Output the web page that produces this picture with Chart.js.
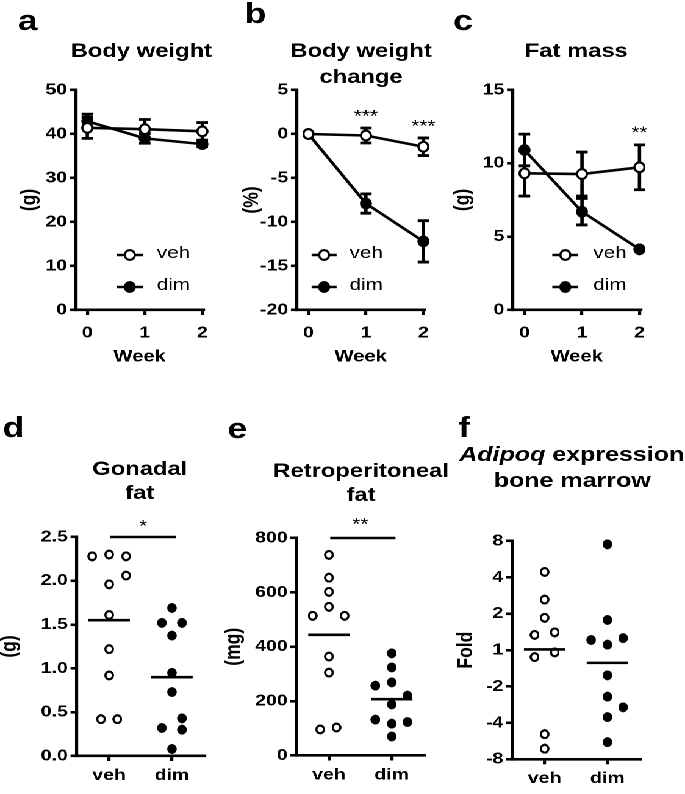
<!DOCTYPE html>
<html><head><meta charset="utf-8">
<script src="https://cdn.jsdelivr.net/npm/chart.js@4/dist/chart.umd.min.js"></script>
<style>
html,body{margin:0;padding:0;background:#fff;}
#wrap{position:absolute;left:0;top:0;width:561.5px;height:794px;transform:scaleX(1.22);transform-origin:0 0;}
#wrap canvas{position:absolute;}
</style></head><body><div id="wrap"></div>
<script>
// ================= DATA =================
const weeks = [0, 1, 2];
const weekLabels = ['0', '1', '2'];

// a: Body weight (g)
const bwVeh = [41.4, 41.1, 40.6];
const bwVehErr = [2.4, 2.2, 2.0];
const bwDim = [42.9, 39.0, 37.7];
const bwDimErr = [1.6, 1.1, 0.6];
const bwTicks = [0, 10, 20, 30, 40, 50];
const bwTickLabels = ['0', '10', '20', '30', '40', '50'];

// b: Body weight change (%)
const chVeh = [0, -0.17, -1.45];
const chVehErr = [0, 0.85, 1.0];
const chDim = [0, -7.9, -12.2];
const chDimErr = [0, 1.1, 2.35];
const chTicks = [-20, -15, -10, -5, 0, 5];
const chTickLabels = ['-20', '-15', '-10', '-5', '0', '5'];
const chStarText = ['***', '***'];
const chStarWeek = [1, 2];
const chStarY = [2.5, 1.4];

// c: Fat mass (g)
const fmVeh = [9.32, 9.27, 9.73];
const fmVehErr = [1.55, 1.5, 1.53];
const fmDim = [10.91, 6.7, 4.14];
const fmDimErr = [1.08, 0.9, 0.1];
const fmTicks = [0, 5, 10, 15];
const fmTickLabels = ['0', '5', '10', '15'];
const fmStarText = ['**'];
const fmStarWeek = [2];
const fmStarY = [12.4];

// d-f: groups
const groups = [0, 1];
const groupLabels = ['veh', 'dim'];

// d: Gonadal fat (g)
const gonVeh = [2.28, 2.30, 2.28, 2.06, 1.96, 1.61, 1.22, 0.92, 0.42, 0.42];
const gonVehJit = [-0.27, 0, 0.27, 0.27, 0, 0, 0, 0, -0.13, 0.13];
const gonDim = [1.69, 1.52, 1.52, 1.375, 0.95, 0.73, 0.43, 0.32, 0.30, 0.08];
const gonDimJit = [0, -0.16, 0.16, 0, 0, 0, 0.16, -0.16, 0.16, 0];
const gonMeans = [1.55, 0.90];
const gonTicks = [0, 0.5, 1, 1.5, 2, 2.5];
const gonTickLabels = ['0.0', '0.5', '1.0', '1.5', '2.0', '2.5'];

// e: Retroperitoneal fat (mg)
const rpVeh = [738, 654, 602, 547, 514, 514, 364, 305, 96, 103];
const rpVehJit = [0, 0, 0, 0, -0.26, 0.25, 0, 0, -0.14, 0.12];
const rpDim = [376, 324, 269, 257, 220, 188, 132, 123, 117, 70];
const rpDimJit = [0, 0, 0, -0.26, 0.25, 0, -0.26, 0.25, 0, 0];
const rpMeans = [444, 207];
const rpTicks = [0, 200, 400, 600, 800];
const rpTickLabels = ['0', '200', '400', '600', '800'];

// f: Adipoq expression, log2 fold units on axis
const adVeh = [2.15, 1.39, 0.89, 0.42, 0.49, -0.19, -0.06, -2.31, -2.71];
const adVehJit = [0, 0, 0, -0.16, 0.16, -0.16, 0.16, 0, 0];
const adDim = [2.91, 0.83, 0.28, 0.15, 0.33, -0.69, -1.28, -1.57, -1.84, -2.53];
const adDimJit = [0, 0, -0.26, 0, 0.25, 0, 0, 0.25, 0, 0];
const adMeans = [0.02, -0.35];
const adTicks = [-3, -2, -1, 0, 1, 2, 3];
const adTickLabels = ['-8', '-4', '-2', '1', '2', '4', '8'];

// ================= LAYOUT / STYLE =================
const S = 1.22;
const FONT = "'Liberation Sans', Arial, Helvetica, sans-serif";
const COLS = [{x0: -12, x1: 228}, {x0: 220, x1: 455}, {x0: 445, x1: 685}];
const ROWS = [{y0: 0, y1: 385}, {y0: 385, y1: 794}];

function makeMarker(filled, D) {
  return new Promise(res => {
    const W = Math.round(D / S), K = 6;
    const c = document.createElement('canvas');
    c.width = W * K; c.height = D * K;
    const g = c.getContext('2d');
    g.setTransform(W * K / D, 0, 0, K, 0, 0);
    const r = D / 2;
    g.beginPath();
    if (filled) {
      g.arc(r, r, r - 0.1, 0, Math.PI * 2);
      g.fillStyle = '#000'; g.fill();
    } else {
      g.arc(r, r, r - 1.15, 0, Math.PI * 2);
      g.fillStyle = '#fff'; g.fill();
      g.lineWidth = 2.2; g.strokeStyle = '#000'; g.stroke();
    }
    const img = new Image();
    img.onload = () => { img.width = W; img.height = D; res(img); };
    img.src = c.toDataURL();
  });
}

const panels = [
  { col: 0, row: 0, kind: 'line', area: {l: 76, r: 203.65, t: 90, b: 310},
    xMin: -0.2, xMax: 2.02, xTicks: weeks, xLabels: weekLabels, xTitle: 'Week', xPad: 8.5, xh: 57,
    yMin: 0, yMax: 50, yTicks: bwTicks, yLabels: bwTickLabels, yTitle: '(g)', yTitleX: 29.5,
    letter: {t: 'a', x: 18, y: 30},
    titles: [{parts: [{t: 'Body weight'}], x: 141.5, y: 57}],
    series: [{vals: bwVeh, errs: bwVehErr, img: 'openL'}, {vals: bwDim, errs: bwDimErr, img: 'filledL'}],
    legend: {x1: 117, x2: 143, tx: 157, ys: [255, 287]}, stars: [] },
  { col: 1, row: 0, kind: 'line', area: {l: 297.3, r: 424.95, t: 90, b: 310},
    xMin: -0.2, xMax: 2.02, xTicks: weeks, xLabels: weekLabels, xTitle: 'Week', xPad: 8.5, xh: 57,
    yMin: -20, yMax: 5, yTicks: chTicks, yLabels: chTickLabels, yTitle: '(%)', yTitleX: 252.5,
    letter: {t: 'b', x: 245, y: 23},
    titles: [{parts: [{t: 'Body weight'}], x: 361.5, y: 57}, {parts: [{t: 'change'}], x: 361.5, y: 83}],
    series: [{vals: chVeh, errs: chVehErr, img: 'openL'}, {vals: chDim, errs: chDimErr, img: 'filledL'}],
    legend: {x1: 312, x2: 337, tx: 350, ys: [255, 287]},
    stars: chStarText.map((t, i) => ({t, x: chStarWeek[i], y: chStarY[i], dy: 0})) },
  { col: 2, row: 0, kind: 'line', area: {l: 512.7, r: 640.35, t: 90, b: 310},
    xMin: -0.2, xMax: 2.02, xTicks: weeks, xLabels: weekLabels, xTitle: 'Week', xPad: 8.5, xh: 57,
    yMin: 0, yMax: 15, yTicks: fmTicks, yLabels: fmTickLabels, yTitle: '(g)', yTitleX: 463,
    letter: {t: 'c', x: 453, y: 30},
    titles: [{parts: [{t: 'Fat mass'}], x: 576, y: 57}],
    series: [{vals: fmVeh, errs: fmVehErr, img: 'openL'}, {vals: fmDim, errs: fmDimErr, img: 'filledL'}],
    legend: {x1: 552, x2: 578, tx: 593, ys: [255, 287]},
    stars: fmStarText.map((t, i) => ({t, x: fmStarWeek[i], y: fmStarY[i], dy: 0})) },
  { col: 0, row: 1, kind: 'dots', area: {l: 76.7, r: 204.8, t: 537, b: 756},
    xMin: -0.52, xMax: 1.52, xTicks: groups, xLabels: groupLabels, xTitle: null, xPad: 4.8, xh: 40,
    yMin: 0, yMax: 2.5, yTicks: gonTicks, yLabels: gonTickLabels, yTitle: '(g)', yTitleX: 10,
    letter: {t: 'd', x: 3, y: 437},
    titles: [{parts: [{t: 'Gonadal'}], x: 140, y: 475}, {parts: [{t: 'fat'}], x: 140, y: 499}],
    pts: [{vals: gonVeh, jit: gonVehJit, g: 0, img: 'open'}, {vals: gonDim, jit: gonDimJit, g: 1, img: 'filled'}],
    means: gonMeans, sig: true,
    stars: [{t: '*', x: 0.54, y: 2.5, dy: -15}] },
  { col: 1, row: 1, kind: 'dots', area: {l: 296.7, r: 424.8, t: 538, b: 755.5},
    xMin: -0.52, xMax: 1.52, xTicks: groups, xLabels: groupLabels, xTitle: null, xPad: 4.8, xh: 40,
    yMin: 0, yMax: 800, yTicks: rpTicks, yLabels: rpTickLabels, yTitle: '(mg)', yTitleX: 234.5,
    letter: {t: 'e', x: 228, y: 438},
    titles: [{parts: [{t: 'Retroperitoneal'}], x: 361.5, y: 477}, {parts: [{t: 'fat'}], x: 361.5, y: 501}],
    pts: [{vals: rpVeh, jit: rpVehJit, g: 0, img: 'open'}, {vals: rpDim, jit: rpDimJit, g: 1, img: 'filled'}],
    means: rpMeans, sig: true,
    stars: [{t: '**', x: 0.5, y: 800, dy: -18}] },
  { col: 2, row: 1, kind: 'dots', area: {l: 511.7, r: 639.8, t: 541, b: 759.3},
    xMin: -0.52, xMax: 1.52, xTicks: groups, xLabels: groupLabels, xTitle: null, xPad: 4.8, xh: 40,
    yMin: -3, yMax: 3, yTicks: adTicks, yLabels: adTickLabels, yTitle: 'Fold', yTitleX: 466,
    letter: {t: 'f', x: 458, y: 437},
    titles: [{parts: [{t: 'Adipoq', italic: true}, {t: ' expression'}], x: 571.5, y: 461, size: 20.5},
             {parts: [{t: 'bone marrow'}], x: 572, y: 487, size: 20.5}],
    pts: [{vals: adVeh, jit: adVehJit, g: 0, img: 'open'}, {vals: adDim, jit: adDimJit, g: 1, img: 'filled'}],
    means: adMeans, sig: false, stars: [] }
];

function buildPanel(p, imgs) {
  const wrap = document.getElementById('wrap');
  const box = {x0: COLS[p.col].x0, x1: COLS[p.col].x1, y0: ROWS[p.row].y0, y1: ROWS[p.row].y1};
  const cw = Math.round((box.x1 - box.x0) / S), ch = box.y1 - box.y0;
  const canvas = document.createElement('canvas');
  canvas.width = cw; canvas.height = ch;
  canvas.style.left = (box.x0 / S) + 'px';
  canvas.style.top = box.y0 + 'px';
  canvas.style.width = cw + 'px';
  canvas.style.height = ch + 'px';
  wrap.appendChild(canvas);

  const yW = (p.area.l - box.x0) / S;
  const padR = cw - (p.area.r - box.x0) / S;
  const padT = p.area.t - box.y0;
  const padB = ch - (p.area.b - box.y0) - p.xh;
  const yTitlePad = (p.yTitleX - box.x0) / S - 17.5 * 1.2 / 2;
  const px = x => (x - box.x0) / S;
  const py = y => y - box.y0;

  let datasets = [];
  if (p.kind === 'line') {
    datasets = p.series.map(s => ({
      data: weeks.map((w, i) => ({x: w, y: s.vals[i]})),
      showLine: true, borderColor: '#000', borderWidth: 2.6,
      pointStyle: imgs[s.img], pointRadius: 6, clip: false
    }));
  } else {
    p.means.forEach((m, gi) => datasets.push({
      data: [{x: gi - 0.33, y: m}, {x: gi + 0.33, y: m}],
      showLine: true, borderColor: '#000', borderWidth: 2.6, pointRadius: 0, clip: false
    }));
    if (p.sig) datasets.push({
      data: [{x: 0.02, y: p.yMax}, {x: 1.06, y: p.yMax}],
      showLine: true, borderColor: '#000', borderWidth: 2.6, pointRadius: 0, clip: false
    });
    p.pts.forEach(s => datasets.push({
      data: s.vals.map((v, i) => ({x: s.g + s.jit[i], y: v})),
      showLine: false, pointStyle: imgs[s.img], pointRadius: 5, clip: false
    }));
  }

  const deco = {
    id: 'deco',
    beforeDatasetsDraw(chart) {
      if (p.kind !== 'line') return;
      const ctx = chart.ctx, xs = chart.scales.x, ys = chart.scales.y;
      ctx.save();
      ctx.strokeStyle = '#000'; ctx.lineWidth = 2.8;
      const cap = 4.7;
      p.series.forEach(s => s.vals.forEach((v, i) => {
        const e = s.errs[i]; if (!e) return;
        const x = xs.getPixelForValue(weeks[i]);
        const yt = ys.getPixelForValue(v + e), yb = ys.getPixelForValue(v - e);
        ctx.beginPath();
        ctx.moveTo(x, yt); ctx.lineTo(x, yb);
        ctx.moveTo(x - cap, yt); ctx.lineTo(x + cap, yt);
        ctx.moveTo(x - cap, yb); ctx.lineTo(x + cap, yb);
        ctx.stroke();
      }));
      ctx.restore();
    },
    afterDraw(chart) {
      const ctx = chart.ctx, xs = chart.scales.x, ys = chart.scales.y;
      ctx.save();
      ctx.fillStyle = '#000';
      // panel letter
      ctx.font = `bold 29px ${FONT}`;
      ctx.textAlign = 'left'; ctx.textBaseline = 'alphabetic';
      ctx.fillText(p.letter.t, px(p.letter.x), py(p.letter.y));
      // titles
      p.titles.forEach(line => {
        const sz = line.size || 19.5;
        const fonts = line.parts.map(pt => `${pt.italic ? 'italic ' : ''}bold ${sz}px ${FONT}`);
        let total = 0;
        const ws = line.parts.map((pt, i) => { ctx.font = fonts[i]; const w = ctx.measureText(pt.t).width; total += w; return w; });
        let x = px(line.x) - total / 2;
        line.parts.forEach((pt, i) => { ctx.font = fonts[i]; ctx.fillText(pt.t, x, py(line.y)); x += ws[i]; });
      });
      // stars
      ctx.font = `17px ${FONT}`;
      ctx.textAlign = 'center';
      p.stars.forEach(st => {
        const x = xs.getPixelForValue(st.x);
        const y = ys.getPixelForValue(st.y) + st.dy;
        ctx.fillText(st.t, x, y + 0.57 * 17);
      });
      // legend
      if (p.legend) {
        const L = p.legend;
        p.series.forEach((s, i) => {
          const y = py(L.ys[i]);
          ctx.strokeStyle = '#000'; ctx.lineWidth = 2.6;
          ctx.beginPath(); ctx.moveTo(px(L.x1), y); ctx.lineTo(px(L.x2), y); ctx.stroke();
          const im = imgs[s.img];
          const cx = (px(L.x1) + px(L.x2)) / 2;
          ctx.drawImage(im, cx - im.width / 2, y - im.height / 2, im.width, im.height);
          ctx.font = `17px ${FONT}`;
          ctx.textAlign = 'left'; ctx.textBaseline = 'middle';
          ctx.fillText(groupLabels[i], px(L.tx), y - 1.5);
          ctx.textBaseline = 'alphabetic';
        });
      }
      ctx.restore();
    }
  };

  const tickFont = {family: FONT, size: 16, weight: 'bold'};
  new Chart(canvas, {
    type: 'scatter',
    data: {datasets},
    options: {
      responsive: false, animation: false, events: [], devicePixelRatio: 2,
      layout: {autoPadding: false, padding: {left: 0, right: padR, top: padT, bottom: padB}},
      plugins: {legend: {display: false}, tooltip: {enabled: false}, title: {display: false}},
      scales: {
        x: {
          type: 'linear', min: p.xMin, max: p.xMax, bounds: 'data',
          afterBuildTicks: sc => { sc.ticks = p.xTicks.map(v => ({value: v})); },
          afterFit: sc => { sc.height = p.xh; },
          ticks: {callback: (v, i) => p.xLabels[i], font: tickFont, color: '#000', padding: p.xPad, maxRotation: 0, autoSkip: false},
          grid: {display: true, drawOnChartArea: false, drawTicks: true, tickLength: 5, color: '#000', lineWidth: 2.6},
          border: {display: true, color: '#000', width: 2.6},
          title: p.xTitle ? {display: true, text: p.xTitle, color: '#000', font: {family: FONT, size: 16.5, weight: 'bold'}, padding: {top: 0, bottom: 0}} : {display: false}
        },
        y: {
          type: 'linear', min: p.yMin, max: p.yMax, bounds: 'data',
          afterBuildTicks: sc => { sc.ticks = p.yTicks.map(v => ({value: v})); },
          afterFit: sc => { sc.width = yW; },
          ticks: {callback: (v, i) => p.yLabels[i], font: tickFont, color: '#000', padding: 2.2, autoSkip: false},
          grid: {display: true, drawOnChartArea: false, drawTicks: true, tickLength: 4.9, color: '#000', lineWidth: 2.6},
          border: {display: true, color: '#000', width: 2.6},
          title: {display: true, text: p.yTitle, color: '#000', font: {family: FONT, size: 17.5, weight: 'bold'}, padding: {top: yTitlePad, bottom: 0}}
        }
      }
    },
    plugins: [deco]
  });
}

Promise.all([makeMarker(false, 10), makeMarker(true, 10), makeMarker(false, 12), makeMarker(true, 12)])
  .then(([open, filled, openL, filledL]) => {
    const imgs = {open, filled, openL, filledL};
    panels.forEach(p => buildPanel(p, imgs));
  });
</script></body></html>
